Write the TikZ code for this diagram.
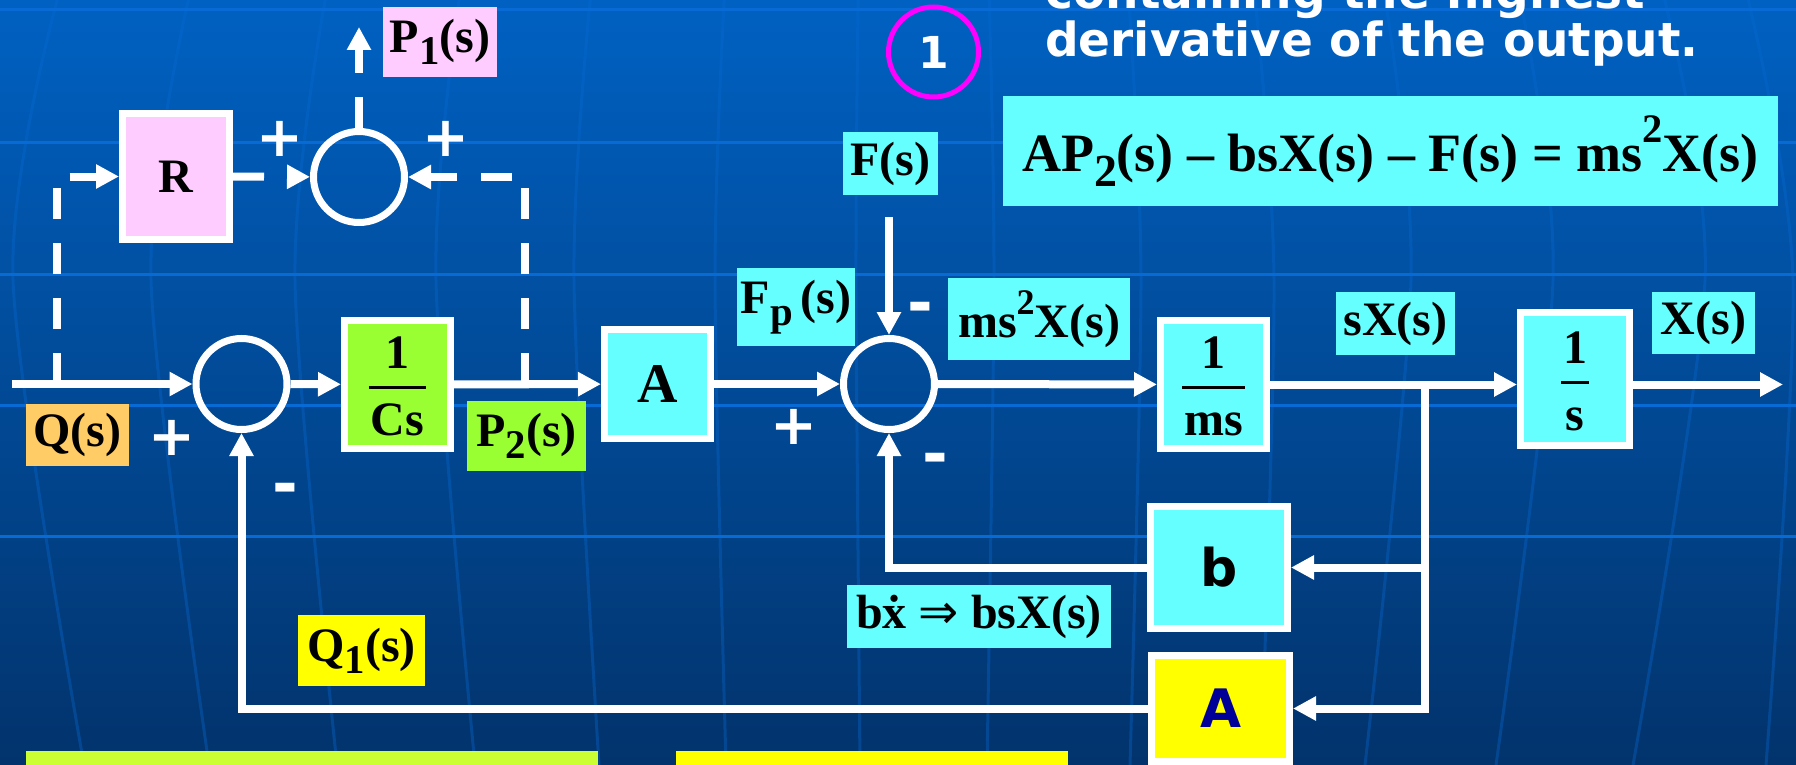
\documentclass[tikz,border=0pt]{standalone}
\usepackage{fontspec}
\usepackage{graphicx}
\setmainfont{Liberation Serif}
\newfontfamily\vsans{DejaVu Sans}
\usetikzlibrary{arrows.meta}

\definecolor{bgtop}{RGB}{0,97,194}
\definecolor{bgmid}{RGB}{0,76,158}
\definecolor{bgbot}{RGB}{2,51,108}
\definecolor{gridh}{RGB}{8,106,212}
\definecolor{cyanbox}{RGB}{102,255,255}
\definecolor{pinkbox}{RGB}{255,204,255}
\definecolor{greenbox}{RGB}{153,255,51}
\definecolor{orangebox}{RGB}{255,204,102}
\definecolor{yellowbox}{RGB}{255,255,0}
\definecolor{limebar}{RGB}{204,255,51}
\definecolor{navyA}{RGB}{0,0,153}
\definecolor{ringcol}{RGB}{255,0,255}

% lowered / raised indices as the slide prints them
\newcommand{\dn}[2][12pt]{\raisebox{-#1}{\scalebox{0.85}{#2}}}
\newcommand{\up}[2][23pt]{\raisebox{#1}{\scalebox{0.75}{#2}}}
% fraction with a bar, for the blocks
\newcommand{\frc}[2]{{\arrayrulewidth=3pt\renewcommand{\arraystretch}{0}%
  \begin{tabular}{@{\hspace{2pt}}c@{\hspace{2pt}}}\rule[-17.5pt]{0pt}{66pt}#1\\\hline\rule[-13pt]{0pt}{59.5pt}#2\end{tabular}}}

\tikzset{
  blk/.style={draw=white, line width=7pt, inner sep=0pt, font=\fontsize{48}{48}\selectfont\bfseries},
  sum/.style={circle, draw=white, line width=7pt, minimum size=91pt, inner sep=0pt},
  lbl/.style={inner sep=0pt, font=\fontsize{48}{48}\selectfont\bfseries},
  sgn/.style={text=white, inner sep=0pt, font=\vsans\bfseries\fontsize{56}{56}\selectfont},
  sgm/.style={text=white, inner sep=0pt, yshift=-7pt, font=\vsans\bfseries\fontsize{62}{62}\selectfont},
  arr/.style={draw=white, line width=8pt, -{Triangle[length=23pt,width=23pt]}},
  dsh/.style={arr, dash pattern=on 31pt off 24pt},
}

\begin{document}
\begin{tikzpicture}[x=1pt, y=-1pt]
	\useasboundingbox (0,0) rectangle (1796,765);
	\clip (0,0) rectangle (1796,765);

	% slide background
	\shade[top color=bgtop, middle color=bgmid, bottom color=bgbot] (0,0) rectangle (1796,765);
	\foreach \gy in {10,143,274,405,536}
		\draw[gridh, line width=3pt] (0,\gy) -- (1796,\gy);
	\foreach \b/\c in {13/84,151/209,295/337,436/475,574/599,715/726,856/860,994/987,1141/1130,1274/1261,1411/1365,1553/1496,1705/1633,1793/1766}{
		\pgfmathsetmacro\t{898+(\b-898)*0.95}
		\draw[gridh, line width=3pt, opacity=0.35] plot[smooth] coordinates {(\t,0) (\b,280) (\c,765)};
	}
	\fill[limebar] (26,751) rectangle (598,765);
	\fill[yellowbox] (676,751) rectangle (1068,765);

	% heading
	\node[anchor=base west, text=white, inner sep=0pt, font=\vsans\bfseries\fontsize{47}{47}\selectfont] (ttlA) at (1045,9) {containing the highest};
	\node[anchor=base west, text=white, inner sep=0pt, font=\vsans\bfseries\fontsize{47}{47}\selectfont] (ttlB) at (1045,57) {derivative of the output.};
	\node[circle, draw=ringcol, line width=5pt, minimum size=90pt, inner sep=0pt, text=white, font=\vsans\bfseries\fontsize{44}{44}\selectfont] (eqnum) at (933.5,52) {1};
	\node[lbl, fill=cyanbox, minimum width=775pt, minimum height=110pt, font=\fontsize{54}{54}\selectfont\bfseries] (eqn) at (1390.5,151)
		{AP\dn[15pt]{2}(s) -- bsX(s) -- F(s) = ms\up[29pt]{2}X(s)};

	% blocks
	\node[blk, fill=pinkbox, minimum width=107pt, minimum height=126pt] (rb) at (176,176.5) {R};
	\node[blk, fill=greenbox, minimum width=106pt, minimum height=126pt] (csb) at (397.5,384.5) {\frc{1}{Cs}};
	\node[blk, fill=cyanbox, minimum width=106pt, minimum height=109pt, font=\fontsize{56}{56}\selectfont\bfseries] (ab) at (657.5,384) {A};
	\node[blk, fill=cyanbox, minimum width=106pt, minimum height=126pt] (msb) at (1213.5,384.5) {\frc{1}{ms}};
	\node[blk, fill=cyanbox, minimum width=109pt, minimum height=133pt] (sb) at (1575,379) {\frc{1}{s}};
	\node[blk, fill=cyanbox, minimum width=137pt, minimum height=122pt, font=\vsans\bfseries\fontsize{52}{52}\selectfont] (bb) at (1219,567.5) {b};
	\node[blk, fill=yellowbox, minimum width=138pt, minimum height=106pt, text=navyA, font=\vsans\bfseries\fontsize{53}{53}\selectfont] (yab) at (1220.5,708.5) {A};

	% summing points
	\node[sum] (tc) at (359,177) {};
	\node[sum] (lc) at (241.5,384) {};
	\node[sum] (mc) at (889,384) {};

	% signal labels
	\node[lbl, fill=pinkbox, minimum width=114pt, minimum height=70pt] (p1l) at (440,42) {P\dn{1}(s)};
	\node[lbl, fill=cyanbox, minimum width=95pt, minimum height=63pt] (fl) at (890.5,163.5) {F(s)};
	\node[lbl, fill=cyanbox, minimum width=118pt, minimum height=78pt] (fpl) at (796,307) {F\dn{p}\,(s)};
	\node[lbl, fill=cyanbox, minimum width=182pt, minimum height=82pt] (accl) at (1039,319) {ms\up{2}X(s)};
	\node[lbl, fill=cyanbox, minimum width=119pt, minimum height=63pt] (vell) at (1395.5,323.5) {sX(s)};
	\node[lbl, fill=cyanbox, minimum width=103pt, minimum height=62pt] (posl) at (1703.5,323) {X(s)};
	\node[lbl, fill=orangebox, minimum width=103pt, minimum height=62pt] (ql) at (77.5,435) {Q(s)};
	\node[lbl, fill=greenbox, minimum width=119pt, minimum height=70pt] (p2l) at (526.5,436) {P\dn{2}(s)};
	\node[lbl, fill=yellowbox, minimum width=127pt, minimum height=71pt] (q1l) at (361.5,650.5) {Q\dn{1}(s)};
	\node[lbl, fill=cyanbox, minimum width=264pt, minimum height=63pt] (dampl) at (979,616.5) {b\accent"02D9 x {\vsans\mdseries ⇒} bsX(s)};

	% signs
	\node[sgn] (tcpa) at (280,139) {+};
	\node[sgn] (tcpb) at (446,139) {+};
	\node[sgn] (lcp) at (172,438) {+};
	\node[sgm] (lcm) at (285,487) {-};
	\node[sgn] (mcp) at (794,427) {+};
	\node[sgm] (mcma) at (920,306) {-};
	\node[sgm] (mcmb) at (935,457) {-};

	% connectors
	\coordinate (qin) at (12,384);
	\coordinate (qtap) at (57,384);
	\coordinate (ptap) at (525,384);
	\coordinate (p1out) at (359,27);
	\coordinate (br) at (1425,384.5);
	\coordinate (xout) at (1783,384.5);

	\draw[arr] (qin) -- (lc);
	\draw[arr] (lc) -- (csb);
	\draw[arr] (csb) -- (ab);
	\draw[arr] (ab) -- (mc);
	\draw[arr] (mc) -- (msb);
	\draw[arr] (msb.east) -- (msb.east -| sb.west);
	\draw[arr] (sb.east |- msb.east) -- (xout);
	\draw[arr, shorten <=22pt] (mc.north |- fl.south) -- (mc.north);
	\draw[arr] (br) |- (bb.east);
	\draw[arr] (br) |- (yab.east);
	\draw[arr] (bb.west) -| (mc.south);
	\draw[arr] (yab.west) -| (lc.south);

	\draw[dsh] (qtap) |- (rb.west);
	\draw[dsh] (rb) -- (tc);
	\draw[dsh] (ptap) |- (tc.east);
	\draw[dsh] (tc) -- (p1out);
\end{tikzpicture}
\end{document}
